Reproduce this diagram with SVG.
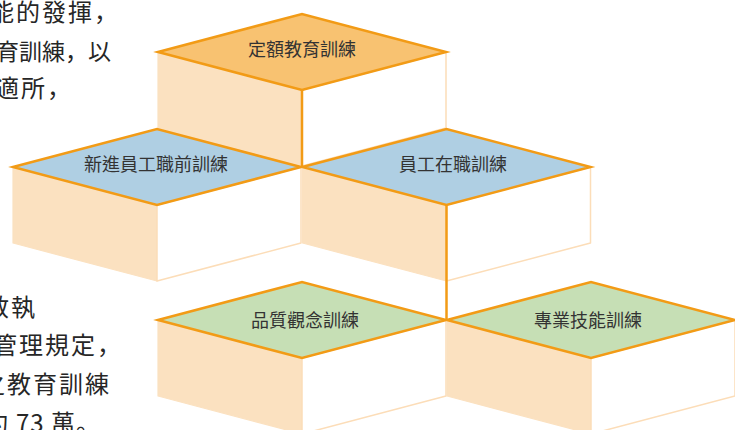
<svg xmlns="http://www.w3.org/2000/svg" width="735" height="430" viewBox="0 0 735 430">
<style>
.lf{fill:#FBE1C0;stroke:#FBE1C0;stroke-width:1.2;stroke-linejoin:round}
.rf{fill:#FFFFFF;stroke:#FCDDB8;stroke-width:1.5;stroke-linejoin:round}
.dm{stroke:#F29B16;stroke-width:2.5;stroke-linejoin:miter}
.org{fill:#F8C271}
.blu{fill:#AFCFE3}
.grn{fill:#C6DFB5}
.lbl{font-family:"Noto Sans CJK TC","Noto Sans",sans-serif;font-size:18px;fill:#333333;text-anchor:middle}
.para{font-family:"Noto Sans CJK JP","Noto Sans",sans-serif;font-size:24px;letter-spacing:2px;fill:#262626}
.tight{font-size:23px;letter-spacing:0}
.num{letter-spacing:1px}
.con{stroke:#F29B16;stroke-width:2.5;fill:none}
</style>
<rect width="735" height="430" fill="#FFFFFF"/>
<g id="paragraph-text">
<text class="para" x="-10" y="21">能的發揮，</text>
<text class="para tight" x="-4" y="60">育訓練，以</text>
<text class="para" x="-5" y="97">適所，</text>
<text class="para" x="-15" y="316">效執</text>
<text class="para" x="-7" y="354">管理規定，</text>
<text class="para" x="-19" y="393">之教育訓練</text>
<text class="para" x="-16" y="432">約</text>
<text class="para num" x="16" y="432">73 萬。</text>
</g>
<g id="node-top">
<polygon class="lf" points="158,52 302,90 302,166 158,128"/>
<polygon class="rf" points="302,90 446,52 446,128 302,166"/>
<polygon class="dm org" points="158,52 302,14 446,52 302,90"/>
<text class="lbl" x="302" y="56">定額教育訓練</text>
</g>
<g id="node-mid-left">
<polygon class="lf" points="13,167 157,205 157,281 13,243"/>
<polygon class="rf" points="157,205 301,167 301,243 157,281"/>
<polygon class="dm blu" points="13,167 157,129 301,167 157,205"/>
<text class="lbl" x="156" y="171">新進員工職前訓練</text>
</g>
<g id="node-mid-right">
<polygon class="lf" points="302.5,167 446.5,205 446.5,281 302.5,243"/>
<polygon class="rf" points="446.5,205 590.5,167 590.5,243 446.5,281"/>
<polygon class="dm blu" points="302.5,167 446.5,129 590.5,167 446.5,205"/>
<text class="lbl" x="453" y="171">員工在職訓練</text>
</g>
<g id="node-bottom-left">
<polygon class="lf" points="158,320 302,358 302,434 158,396"/>
<polygon class="rf" points="302,358 446,320 446,396 302,434"/>
<polygon class="dm grn" points="158,320 302,282 446,320 302,358"/>
<text class="lbl" x="305" y="327">品質觀念訓練</text>
</g>
<g id="node-bottom-right">
<polygon class="lf" points="447,320 591,358 591,434 447,396"/>
<polygon class="rf" points="591,358 735,320 735,396 591,434"/>
<polygon class="dm grn" points="447,320 591,282 735,320 591,358"/>
<text class="lbl" x="588" y="327">專業技能訓練</text>
</g>
<g id="connectors">
<line class="con" x1="302" y1="90" x2="302" y2="166"/>
<line class="con" x1="446.5" y1="205" x2="446.5" y2="320"/>
</g>
</svg>
